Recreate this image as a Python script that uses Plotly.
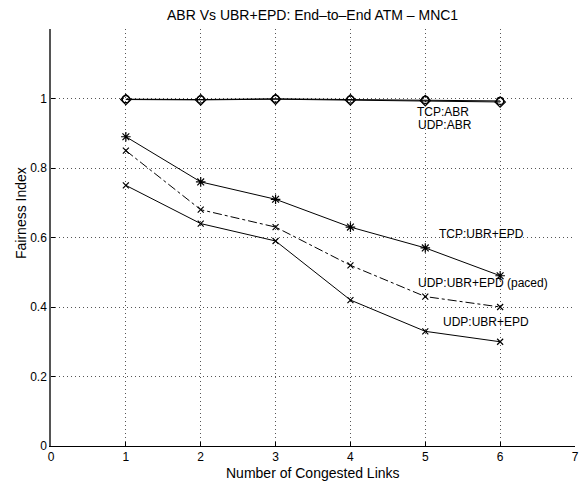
import plotly.graph_objects as go

links = [1, 2, 3, 4, 5, 6]
tcp_abr = [0.998, 0.997, 0.999, 0.997, 0.996, 0.993]
udp_abr = [0.997, 0.996, 0.998, 0.996, 0.994, 0.990]
tcp_ubr = [0.89, 0.76, 0.71, 0.63, 0.57, 0.49]
udp_ubr_paced = [0.85, 0.68, 0.63, 0.52, 0.43, 0.40]
udp_ubr = [0.75, 0.64, 0.59, 0.42, 0.33, 0.30]

x_ticks = [0, 1, 2, 3, 4, 5, 6, 7]
y_ticks = [0, 0.2, 0.4, 0.6, 0.8, 1]
y_tick_labels = ["0", "0.2", "0.4", "0.6", "0.8", "1"]

labels = [
    ("TCP:ABR", 4.86, 0.960),
    ("UDP:ABR", 4.87, 0.925),
    ("TCP:UBR+EPD", 5.16, 0.609),
    ("UDP:UBR+EPD (paced)", 4.87, 0.469),
    ("UDP:UBR+EPD", 5.21, 0.357),
]

FONT = "Liberation Sans, Arial, Helvetica, sans-serif"

fig = go.Figure()

def add(y, symbol, dash="solid", size=7):
    fig.add_trace(go.Scatter(
        x=links, y=y, mode="lines+markers",
        line=dict(color="black", width=1, dash=dash),
        marker=dict(symbol=symbol, size=size, color="black",
                    line=dict(color="black", width=1.2)),
        showlegend=False, hoverinfo="skip"))

add(tcp_abr, "circle-open", size=7)
add(udp_abr, "diamond-open", size=8)
add(tcp_ubr, "asterisk-open", size=8)
add(udp_ubr_paced, "x-thin-open", dash="dashdot", size=6)
add(udp_ubr, "x-thin-open", size=6)

for text, x, y in labels:
    fig.add_annotation(x=x, y=y, text=text, showarrow=False,
                       xanchor="left", yanchor="middle",
                       font=dict(family=FONT, size=12, color="black"))

fig.add_annotation(xref="paper", yref="paper", x=(314 - 51) / 528, y=1, yshift=14,
                   text="ABR Vs UBR+EPD: End\u2013to\u2013End ATM \u2013 MNC1",
                   showarrow=False, xanchor="center", yanchor="middle",
                   font=dict(family=FONT, size=14, color="black"))
fig.add_annotation(xref="paper", yref="paper", x=(315 - 51) / 528, y=0, yshift=-27,
                   text="Number of Congested Links", showarrow=False,
                   xanchor="center", yanchor="middle",
                   font=dict(family=FONT, size=14, color="black"))
fig.add_annotation(xref="paper", yref="paper", x=0, xshift=-30, y=(446 - 213) / 417,
                   text="Fairness Index", showarrow=False, textangle=-90,
                   xanchor="center", yanchor="middle",
                   font=dict(family=FONT, size=14, color="black"))

grid = dict(showgrid=True, gridcolor="#555", griddash="1px,3px", gridwidth=1)

fig.update_layout(
    width=580, height=482,
    margin=dict(l=51, r=1, t=29, b=36),
    paper_bgcolor="white", plot_bgcolor="white",
    font=dict(family=FONT, size=12, color="black"),
    xaxis=dict(range=[0, 7], tickvals=x_ticks, ticks="inside", ticklen=4,
               tickcolor="black", showline=True, linecolor="black", linewidth=1,
               zeroline=False, tickfont=dict(size=12), ticklabeloverflow="allow",
               **grid),
    yaxis=dict(range=[0, 1.2], tickvals=y_ticks, ticktext=y_tick_labels,
               ticks="inside", ticklen=4, tickcolor="black",
               showline=True, linecolor="#555", linewidth=1.5,
               zeroline=False, tickfont=dict(size=12), **grid),
)

fig.write_html("out.html")
